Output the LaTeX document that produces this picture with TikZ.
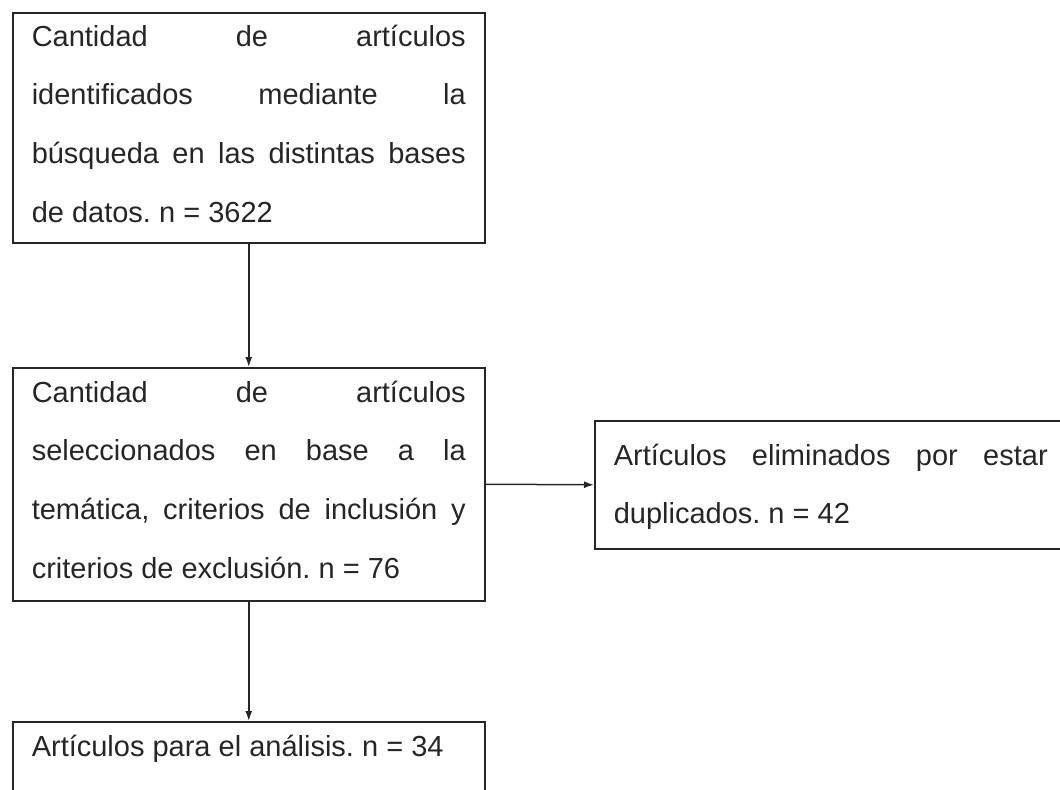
\documentclass[tikz,border=0pt]{standalone}
\usepackage{fontspec}
\setmainfont{Liberation Sans}
\usetikzlibrary{arrows.meta,positioning}
\hyphenpenalty=10000
\frenchspacing

\begin{document}
\begin{tikzpicture}[x=0.5pt,y=-0.5pt,
            >={Latex[length=5pt,width=3.5pt]},
            every node/.style = {draw=black!85, line width=0.75pt, text=black!85,
                anchor=north west, text width=217pt, inner xsep=9.5pt, inner ysep=0pt,
                align=justify, font=\fontsize{14.5}{29.35}\selectfont},
            flecha/.style = {->, draw=black!85, line width=0.75pt}
            ]
            \clip (0,0) rectangle (1060,789);
            \node[text height=16.75pt, text depth=98.25pt] (busqueda) at (12,12)
                {Cantidad de artículos\linebreak identificados mediante la\linebreak
                 búsqueda en las distintas bases\linebreak de datos. n = 3622};
            \node[text height=17.25pt, text depth=99.25pt] (seleccion) at (12,367)
                {Cantidad de artículos\linebreak seleccionados en base a la\linebreak
                 temática, criterios de inclusión y\linebreak criterios de exclusión. n = 76};
            \node[text height=22.25pt, text depth=41.75pt] (duplicados) at (594,420)
                {Artículos eliminados por estar\linebreak duplicados. n = 42};
            \node[text height=17.5pt, text depth=30pt] (analisis) at (12,721)
                {Artículos para el análisis. n = 34};
            \draw[flecha] (busqueda.south) -- (seleccion.north);
            \draw[flecha] (seleccion.east) -- (duplicados.west);
            \draw[flecha] (seleccion.south) -- (analisis.north);
        \end{tikzpicture}
\end{document}
